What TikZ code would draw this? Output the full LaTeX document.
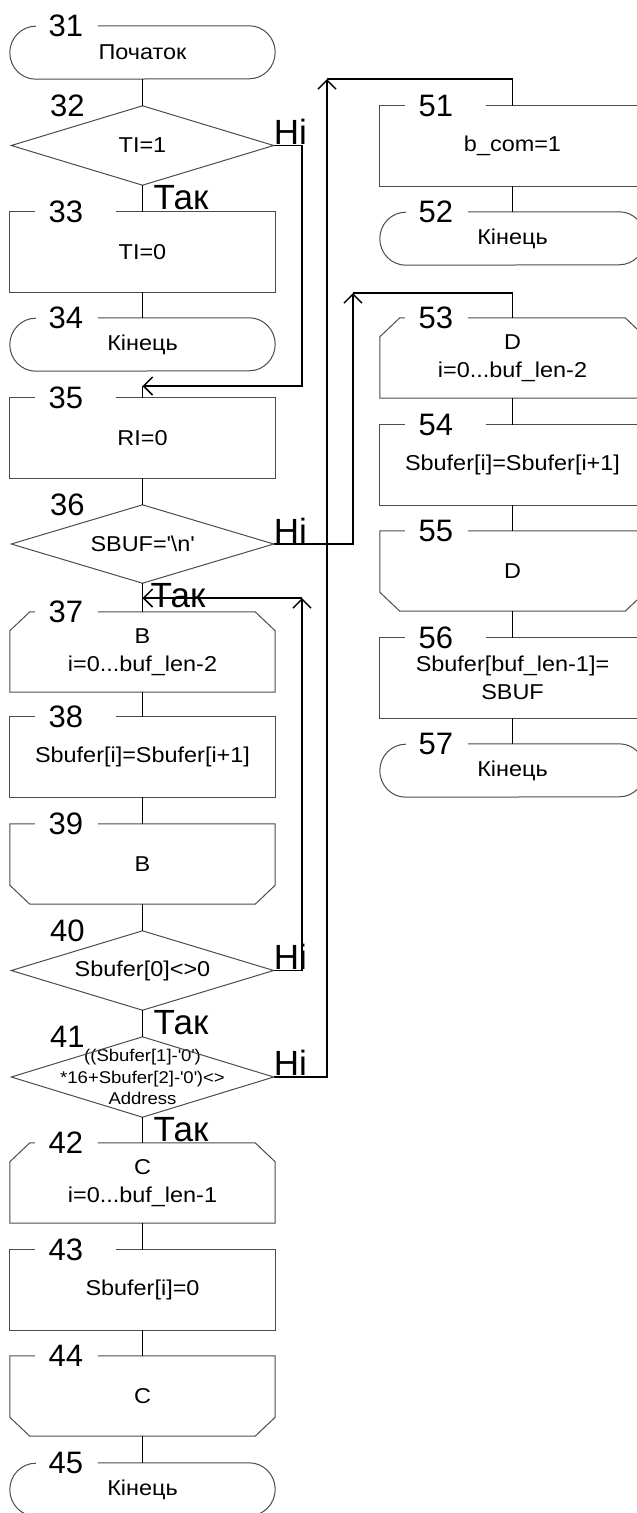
\documentclass[tikz,border=0pt]{standalone}
\usepackage{fontspec}
\setmainfont{Liberation Sans}
\newfontfamily\blockfont[FakeStretch=1.09]{Liberation Sans}
\usetikzlibrary{arrows.meta}

% outlines of the flowchart blocks, drawn from the anchors of a named node
\newcommand\procshape[1]{\draw[outl] ([xshift=106pt]#1.north west) -- (#1.north east) -- (#1.south east) -- (#1.south west) -- (#1.north west) -- ([xshift=25pt]#1.north west);}
\newcommand\termshape[1]{\draw[outl] ([xshift=88pt]#1.north west) -- ([xshift=-26pt]#1.north east) arc[start angle=90,end angle=-90,x radius=26pt,y radius=26.5pt] -- ([xshift=26pt]#1.south west) arc[start angle=270,end angle=90,x radius=26pt,y radius=26.5pt];}
\newcommand\loopopen[1]{\draw[outl] ([xshift=88pt]#1.north west) -- ([xshift=-20pt]#1.north east) -- ([yshift=-19pt]#1.north east) -- (#1.south east) -- (#1.south west) -- ([yshift=-19pt]#1.north west) -- ([xshift=20pt]#1.north west) -- ([xshift=25pt]#1.north west);}
\newcommand\loopclose[1]{\draw[outl] ([xshift=88pt]#1.north west) -- (#1.north east) -- ([yshift=19pt]#1.south east) -- ([xshift=-20pt]#1.south east) -- ([xshift=20pt]#1.south west) -- ([yshift=19pt]#1.south west) -- (#1.north west) -- ([xshift=25pt]#1.north west);}
\newcommand\decshape[1]{\draw[outl] (#1.north) -- (#1.east) -- (#1.south) -- (#1.west) -- cycle;}
\newcommand\numlabel[1]{\node[num] (n#1) at ([xshift=56pt]s#1.north west) {#1};}

\begin{document}
\begin{tikzpicture}[x=1pt,y=1pt,
  outl/.style={draw=black!70, line width=1pt},
  conn/.style={draw=black, line width=1.5pt},
  tip/.style={-{Straight Barb[length=9pt,width=18pt]}},
  blk/.style={inner sep=0pt, minimum width=265pt, minimum height=80pt, align=center,
    font={\blockfont\fontsize{21.5}{28}\selectfont}},
  dec/.style={blk, minimum width=262pt},
  term/.style={blk, minimum height=53pt},
  num/.style={inner sep=0pt, font={\fontsize{31}{31}\selectfont}},
  yn/.style={inner sep=0pt, font={\fontsize{35}{35}\selectfont}},
]
\fill[white] (0,0) rectangle (637,-1513);
\useasboundingbox (0,0) rectangle (637,-1513);
\clip (0,0) rectangle (637,-1513);

% ---- main column ----
\node[term] (s31) at (142.5,-52.5) {Початок};
\node[dec, minimum height=79pt] (s32) at (142.5,-145.5) {TI=1};
\node[blk] (s33) at (142.5,-252) {TI=0};
\node[term] (s34) at (142.5,-344.5) {Кінець};
\node[blk] (s35) at (142.5,-438) {RI=0};
\node[dec, minimum height=78pt] (s36) at (142.5,-544) {SBUF=\textquotesingle\textbackslash n\textquotesingle};
\node[blk] (s37) at (142.5,-652) {B\\i=0...buf\_len-2};
\node[blk] (s38) at (142.5,-757) {Sbufer[i]=Sbufer[i+1]};
\node[blk] (s39) at (142.5,-864) {B};
\node[dec, minimum height=79pt] (s40) at (142.5,-970.5) {Sbufer[0]<>0};
\node[dec, font={\blockfont\fontsize{17}{21.5}\selectfont}] (s41) at (142.5,-1077)
  {((Sbufer[1]-\textquotesingle 0\textquotesingle)\\{*}16+Sbufer[2]-\textquotesingle 0\textquotesingle)<>\\Address};
\node[blk] (s42) at (142.5,-1183) {C\\i=0...buf\_len-1};
\node[blk] (s43) at (142.5,-1290) {Sbufer[i]=0};
\node[blk] (s44) at (142.5,-1396) {C};
\node[term] (s45) at (142.5,-1489.5) {Кінець};

% ---- second column ----
\node[blk] (s51) at (512.5,-146) {b\_com=1};
\node[term] (s52) at (512.5,-238.5) {Кінець};
\node[blk] (s53) at (512.5,-358) {D\\i=0...buf\_len-2};
\node[blk] (s54) at (512.5,-465) {Sbufer[i]=Sbufer[i+1]};
\node[blk] (s55) at (512.5,-571) {D};
\node[blk] (s56) at (512.5,-678) {Sbufer[buf\_len-1]=\\SBUF};
\node[term] (s57) at (512.5,-770.5) {Кінець};

% outlines
\termshape{s31} \decshape{s32} \procshape{s33} \termshape{s34} \procshape{s35}
\decshape{s36} \loopopen{s37} \procshape{s38} \loopclose{s39} \decshape{s40}
\decshape{s41} \loopopen{s42} \procshape{s43} \loopclose{s44} \termshape{s45}
\procshape{s51} \termshape{s52} \loopopen{s53} \procshape{s54} \loopclose{s55}
\procshape{s56} \termshape{s57}

% block numbers
\foreach \k in {31,32,33,34,35,36,37,38,39,40,41,42,43,44,45,51,52,53,54,55,56,57}{\numlabel{\k}}

% straight connectors
\draw[conn] (s31.south) -- (s32.north);
\draw[conn] (s32.south) -- (s33.north);
\draw[conn] (s33.south) -- (s34.north);
\draw[conn] (s35.south) -- (s36.north);
\draw[conn] (s36.south) -- (s37.north);
\draw[conn] (s37.south) -- (s38.north);
\draw[conn] (s38.south) -- (s39.north);
\draw[conn] (s39.south) -- (s40.north);
\draw[conn] (s40.south) -- (s41.north);
\draw[conn] (s41.south) -- (s42.north);
\draw[conn] (s42.south) -- (s43.north);
\draw[conn] (s43.south) -- (s44.north);
\draw[conn] (s44.south) -- (s45.north);
\draw[conn] (s51.south) -- (s52.north);
\draw[conn] (s53.south) -- (s54.north);
\draw[conn] (s54.south) -- (s55.north);
\draw[conn] (s55.south) -- (s56.north);
\draw[conn] (s56.south) -- (s57.north);

% branch routes
\coordinate (c1) at (302,-386);
\coordinate (j35) at (142.5,-386);
\coordinate (c2) at (353,-293);
\coordinate (c3) at (302,-598);
\coordinate (j37) at (142.5,-598);
\coordinate (c4) at (327,-79);

\draw[conn, tip] (s32.east) -| (c1) -- (j35);
\draw[conn] (j35) -- (s35.north);
\draw[conn, tip] (s36.east) -| (c2);
\draw[conn] (c2) -| (s53.north);
\draw[conn, tip] (s40.east) -| (c3);
\draw[conn, tip] (c3) -- (j37);
\draw[conn, tip] (s41.east) -| (c4);
\draw[conn] (c4) -| (s51.north);

% branch labels
\node[yn, anchor=base west] (h32) at ([yshift=1pt]s32.east) {Ні};
\node[yn, anchor=base west] (h36) at ([yshift=1pt]s36.east) {Ні};
\node[yn, anchor=base west] (h40) at ([yshift=1pt]s40.east) {Ні};
\node[yn, anchor=base west] (h41) at ([yshift=2pt]s41.east) {Ні};
\node[yn, anchor=base west] (k32) at ([xshift=11pt,yshift=-24pt]s32.south) {Так};
\node[yn, anchor=base west] (k36) at ([xshift=8pt,yshift=-24pt]s36.south) {Так};
\node[yn, anchor=base west] (k40) at ([xshift=11pt,yshift=-24pt]s40.south) {Так};
\node[yn, anchor=base west] (k41) at ([xshift=11pt,yshift=-24pt]s41.south) {Так};
\end{tikzpicture}
\end{document}
